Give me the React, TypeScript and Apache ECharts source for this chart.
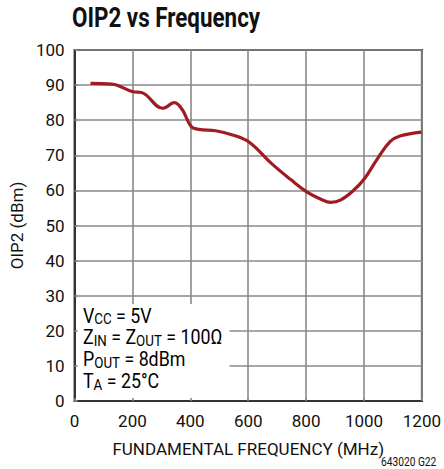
import React, { useEffect, useRef } from "react";
import * as echarts from "echarts";

const freqMHz = [55, 129, 202, 231, 305, 345, 373, 402, 430, 487, 555, 606, 680, 748, 802, 851, 885, 920, 965, 1002, 1044, 1090, 1124, 1198];
const oip2 = [90.5, 90.3, 88.1, 87.9, 83.4, 85.0, 82.9, 78.3, 77.4, 77.0, 75.6, 73.6, 67.7, 63.0, 59.6, 57.5, 56.6, 57.3, 60.1, 63.4, 68.7, 73.9, 75.5, 76.6];
const xTicks = [0, 200, 400, 600, 800, 1000, 1200];
const yTicks = [0, 10, 20, 30, 40, 50, 60, 70, 80, 90, 100];

const FONT = "Roboto, 'Liberation Sans', sans-serif";

export default function App() {
  const ref = useRef<HTMLDivElement>(null);
  useEffect(() => {
    if (!ref.current) return;
    const chart = echarts.init(ref.current, undefined, { renderer: "svg" });
    const data = freqMHz.map((f, i) => [f, oip2[i]]);
    const main = { fontSize: 20, fontFamily: FONT, color: "#111", lineHeight: 21.7 };
    const sub = { fontSize: 15, fontFamily: FONT, color: "#111", lineHeight: 12, verticalAlign: "bottom" as const };
    chart.setOption({
      animation: false,
      backgroundColor: "#fff",
      grid: {
        left: 74,
        right: 18,
        top: 50,
        bottom: 68,
        show: true,
        borderColor: "#333",
        borderWidth: 2,
        backgroundColor: "transparent",
      },
      xAxis: [
        {
          type: "value",
          position: "bottom",
          min: 0,
          max: 1200,
          interval: 200,
          z: 0,
          axisLine: { show: false },
          axisTick: { show: false },
          axisLabel: { show: false },
          splitLine: { show: true, lineStyle: { color: "#8a8a8a", width: 1.6 } },
        },
        {
          type: "value",
          position: "bottom",
          min: 0,
          max: 1200,
          interval: 200,
          z: 4,
          name: "FUNDAMENTAL FREQUENCY (MHz)",
          nameLocation: "middle",
          nameGap: 39,
          nameTextStyle: { fontSize: 17, fontFamily: FONT, color: "#111" },
          axisLine: { show: true, onZero: false, lineStyle: { color: "#333", width: 2 } },
          axisTick: { show: true, inside: true, length: 3, lineStyle: { color: "#8a8a8a", width: 1.6 } },
          axisLabel: {
            fontSize: 17,
            fontFamily: FONT,
            color: "#111",
            margin: 11,
            formatter: (v: number) => (xTicks.includes(v) ? String(v) : ""),
          },
          splitLine: { show: false },
        },
      ],
      yAxis: [
        {
          type: "value",
          position: "left",
          min: 0,
          max: 100,
          interval: 10,
          z: 0,
          axisLine: { show: false },
          axisTick: { show: false },
          axisLabel: { show: false },
          splitLine: { show: true, lineStyle: { color: "#8a8a8a", width: 1.6 } },
        },
        {
          type: "value",
          position: "left",
          min: 0,
          max: 100,
          interval: 10,
          z: 4,
          name: "OIP2 (dBm)",
          nameLocation: "middle",
          nameGap: 48,
          nameTextStyle: { fontSize: 17, fontFamily: FONT, color: "#111" },
          axisLine: { show: true, onZero: false, lineStyle: { color: "#333", width: 2 } },
          axisTick: { show: true, inside: true, length: 3, lineStyle: { color: "#8a8a8a", width: 1.6 } },
          axisLabel: {
            fontSize: 17,
            fontFamily: FONT,
            color: "#111",
            margin: 10,
            formatter: (v: number) => (yTicks.includes(v) ? String(v) : ""),
          },
          splitLine: { show: false },
        },
      ],
      graphic: [
        {
          type: "text",
          z: 3,
          x: 72,
          y: 4,
          scaleX: 0.83,
          style: { text: "OIP2 vs Frequency", fontSize: 27, fontWeight: "bold", fontFamily: FONT, fill: "#111" },
        },
        {
          type: "rect",
          z: 2,
          shape: { x: 75.5, y: 304, width: 154, height: 96 },
          style: { fill: "#fff" },
        },
        {
          type: "text",
          z: 3,
          x: 83,
          y: 305,
          scaleX: 0.89,
          style: {
            text:
              "{a|V}{s|CC}{a| = 5V}\n{a|Z}{s|IN}{a| = Z}{s|OUT}{a| = 100Ω}\n{a|P}{s|OUT}{a| = 8dBm}\n{a|T}{s|A}{a| = 25°C}",
            rich: { a: main, s: sub },
            fontFamily: FONT,
          },
        },
        {
          type: "text",
          z: 3,
          x: 381,
          y: 456,
          scaleX: 0.85,
          style: { text: "643020 G22", fontSize: 12, fontFamily: FONT, fill: "#111" },
        },
      ],
      series: [
        {
          type: "line",
          xAxisIndex: 0,
          yAxisIndex: 0,
          data,
          smooth: 0.4,
          showSymbol: false,
          symbol: "none",
          z: 5,
          lineStyle: { color: "#a01c22", width: 3.2 },
        },
      ],
    });
    return () => chart.dispose();
  }, []);
  return <div ref={ref} style={{ width: 444, height: 469, position: "absolute", left: 0, top: 0 }} />;
}
